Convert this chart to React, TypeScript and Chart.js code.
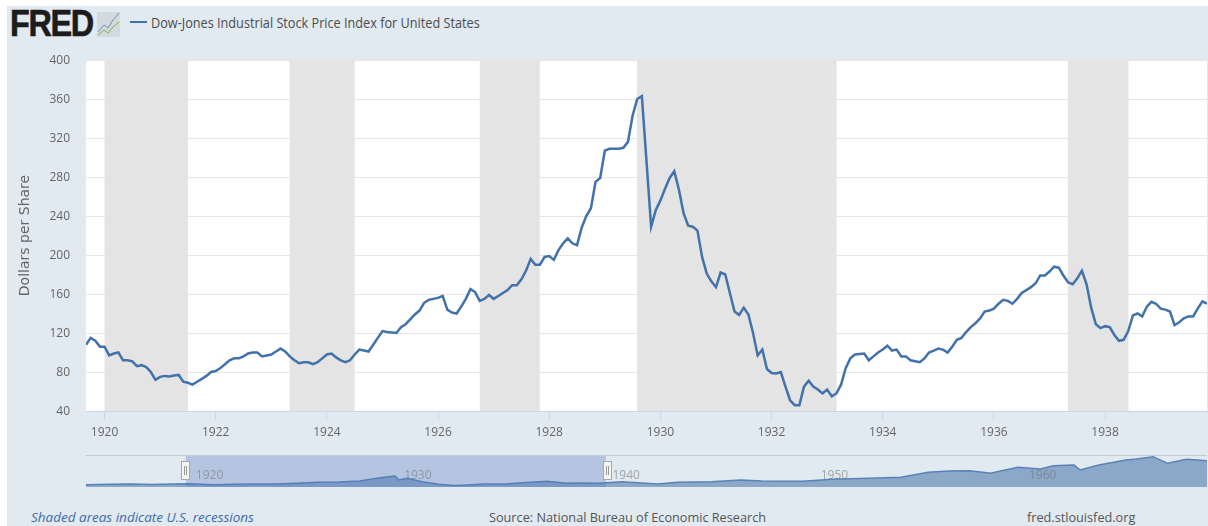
import React, { useEffect, useRef } from "react";
import { Chart, registerables } from "chart.js";

Chart.register(...registerables);

const seriesLabel = "Dow-Jones Industrial Stock Price Index for United States";
const firstYear = 1919;
const firstMonth = 8; // September (0-based)

const dowValues = [
  108, 115, 112, 106,
  106, 97, 99, 100, 92, 92, 91, 86, 87, 85, 80, 72,
  75, 76, 75.5, 76.5, 77, 70, 69, 67, 70, 73, 76, 80,
  81, 84, 88, 92, 94, 94, 96, 99, 100, 100, 96, 97,
  98, 101, 104, 101, 96, 92, 89, 90, 90, 88, 90, 94,
  98, 99, 95, 92, 90, 92, 98, 103, 102, 101, 108, 115,
  122, 121, 120.5, 120, 126, 129, 134, 139, 143, 151, 154, 155,
  156, 158, 144, 141, 140, 147, 155, 165, 162, 153, 155, 159,
  155, 158, 161, 164, 169, 169, 175, 184, 196, 190, 190, 198,
  199, 195, 205, 212, 217, 212, 210, 228, 240, 248, 275, 279,
  307, 309, 309, 309, 310, 316, 343, 360, 363, 296, 229, 246,
  256, 268, 279, 286, 267, 243, 230, 229, 225, 198, 181, 173,
  167, 182, 180, 161, 142, 138.6, 146, 139, 120, 97, 103, 83,
  79, 78.5, 80, 65, 51, 46, 46, 65, 71, 65, 62, 58,
  62, 55, 58, 67, 84, 94, 98, 98.5, 99, 92, 96, 100,
  103, 107, 102, 103, 96, 96, 92, 91, 90, 94, 100, 102,
  104, 103, 100, 106, 113, 115, 121, 126, 130, 135, 142, 143,
  145, 150, 154, 153, 150, 155, 161, 164, 167, 171, 179, 179,
  183, 188, 187, 179, 172, 170, 176, 184, 170, 146, 129, 125,
  127, 126, 118, 112, 113, 122, 138, 140, 137, 147, 152, 150,
  145, 144, 142, 128, 131, 135, 137, 137, 145, 152.5, 150,
];

const yTicks = [40, 80, 120, 160, 200, 240, 280, 320, 360, 400];
const xTickYears = [1920, 1922, 1924, 1926, 1928, 1930, 1932, 1934, 1936, 1938];

const recessionStarts = [1920.0, 1923.33, 1926.75, 1929.58, 1937.33];
const recessionEnds = [1921.5, 1924.5, 1927.83, 1933.17, 1938.42];

const navYears = [
  1914.87, 1916, 1917, 1918, 1919, 1919.8, 1921, 1922, 1923, 1924, 1925, 1926, 1927, 1928, 1929, 1929.7,
  1929.9, 1930.3, 1931, 1931.8, 1932.5, 1933, 1934, 1935, 1936, 1937, 1937.9, 1938.5, 1939.5, 1940.6, 1942.3,
  1943.3, 1944.9, 1946.3, 1947.3, 1949.3, 1950.7, 1952.5, 1954, 1955.3, 1956.3, 1957.3, 1958.3, 1959.6, 1960.7, 1961.3, 1962.3,
  1962.6, 1963.5, 1964.8, 1965.3, 1966.1, 1966.8, 1967.7, 1968.69,
];
const navValues = [
  75, 90, 95, 80, 95, 110, 72, 90, 98, 95, 125, 155, 165, 200, 300, 363,
  230, 285, 170, 90, 46, 60, 100, 100, 150, 185, 125, 135, 120, 174, 98,
  154, 174, 230, 197, 187, 253, 285, 318, 482, 525, 535, 450, 645, 590, 700, 720,
  557, 720, 885, 918, 995, 777, 908, 863,
];
const navLabels = [1920, 1930, 1940, 1950, 1960];

const UI_FONT = '"Open Sans", sans-serif';

const dowPoints = dowValues.map((y, i) => ({ x: firstYear + (firstMonth + i) / 12, y }));
const navPoints = navValues.map((y, i) => ({ x: navYears[i], y }));

const recessionPlugin = {
  id: "recessions",
  beforeDraw(chart: any) {
    const { ctx, chartArea: a } = chart;
    ctx.save();
    ctx.fillStyle = "#ffffff";
    ctx.fillRect(a.left, a.top, a.right - a.left, a.bottom - a.top);
    ctx.restore();
  },
  beforeDatasetsDraw(chart: any) {
    const { ctx, chartArea: a, scales } = chart;
    ctx.save();
    ctx.fillStyle = "#e4e4e4";
    recessionStarts.forEach((s, i) => {
      const l = scales.x.getPixelForValue(s);
      const r = scales.x.getPixelForValue(recessionEnds[i]);
      ctx.fillRect(l, a.top, r - l, a.bottom - a.top);
    });
    ctx.restore();
  },
};

const navigatorPlugin = {
  id: "navigatorDecor",
  afterDatasetsDraw(chart: any) {
    const { ctx, chartArea: a, scales } = chart;
    const first = dowPoints[0].x;
    const last = dowPoints[dowPoints.length - 1].x;
    const l = scales.x.getPixelForValue(first);
    const r = scales.x.getPixelForValue(last);
    ctx.save();
    ctx.fillStyle = "rgba(80,115,190,0.3)";
    ctx.fillRect(l, a.top, r - l, a.bottom - a.top);
    ctx.strokeStyle = "#c9c9c9";
    ctx.lineWidth = 1;
    ctx.beginPath();
    ctx.moveTo(a.left, a.top + 0.5);
    ctx.lineTo(a.right, a.top + 0.5);
    ctx.stroke();
    ctx.font = `12px ${UI_FONT}`;
    ctx.fillStyle = "rgba(110,110,110,0.55)";
    ctx.textBaseline = "middle";
    navLabels.forEach((yr) => {
      ctx.fillText(String(yr), scales.x.getPixelForValue(yr) + 3, a.top + 21);
    });
    [l - 1, r + 1].forEach((p) => {
      const hx = Math.round(p) - 4;
      ctx.fillStyle = "#f4f4f4";
      ctx.strokeStyle = "#a8a8a8";
      ctx.fillRect(hx + 0.5, a.top + 6.5, 8, 18);
      ctx.strokeRect(hx + 0.5, a.top + 6.5, 8, 18);
      ctx.strokeStyle = "#999999";
      ctx.beginPath();
      ctx.moveTo(hx + 3.5, a.top + 11);
      ctx.lineTo(hx + 3.5, a.top + 20);
      ctx.moveTo(hx + 5.5, a.top + 11);
      ctx.lineTo(hx + 5.5, a.top + 20);
      ctx.stroke();
    });
    ctx.restore();
  },
};

const abs = (left: number, top: number, extra: any = {}): any => ({
  position: "absolute",
  left,
  top,
  whiteSpace: "nowrap",
  fontFamily: UI_FONT,
  ...extra,
});

export default function App() {
  const mainRef = useRef<HTMLCanvasElement>(null);
  const navRef = useRef<HTMLCanvasElement>(null);

  useEffect(() => {
    const main = new Chart(mainRef.current as any, {
      type: "line",
      data: {
        datasets: [
          {
            label: seriesLabel,
            data: dowPoints,
            borderColor: "#4272aa",
            borderWidth: 2.5,
            pointRadius: 0,
            tension: 0,
            fill: false,
          },
        ],
      },
      options: {
        animation: false,
        responsive: false,
        layout: { padding: { top: 60, right: 1, left: 0, bottom: 0 } },
        plugins: { legend: { display: false }, tooltip: { enabled: false } },
        scales: {
          x: {
            type: "linear",
            min: dowPoints[0].x,
            max: dowPoints[dowPoints.length - 1].x,
            afterBuildTicks: (s: any) => {
              s.ticks = xTickYears.map((value) => ({ value }));
            },
            afterFit: (s: any) => {
              s.height = 39;
            },
            grid: { drawOnChartArea: false, color: "#ccd6eb", tickLength: 9 },
            border: { color: "#ccd6eb" },
            ticks: {
              autoSkip: false,
              maxRotation: 0,
              padding: 5,
              color: "#666666",
              font: { family: UI_FONT, size: 12 },
              callback: (v: any) => String(v),
            },
          },
          y: {
            type: "linear",
            min: 40,
            max: 400,
            afterBuildTicks: (s: any) => {
              s.ticks = yTicks.map((value) => ({ value }));
            },
            afterFit: (s: any) => {
              s.width = 86;
            },
            grid: { color: "#e6e6e6", drawTicks: false },
            border: { display: false },
            ticks: {
              padding: 16,
              labelOffset: 1,
              color: "#666666",
              font: { family: UI_FONT, size: 12 },
            },
            title: {
              display: true,
              text: "Dollars per Share",
              color: "#666666",
              font: { family: '"DejaVu Sans", sans-serif', size: 14 },
              padding: { top: 17, bottom: 0 },
            },
          },
        },
      },
      plugins: [recessionPlugin],
    } as any);

    const nav = new Chart(navRef.current as any, {
      type: "line",
      data: {
        datasets: [
          {
            data: navPoints,
            borderColor: "#5a82b5",
            backgroundColor: "rgba(69,114,167,0.55)",
            borderWidth: 1.5,
            pointRadius: 0,
            tension: 0,
            fill: "origin",
          },
        ],
      },
      options: {
        animation: false,
        responsive: false,
        layout: { padding: { top: 5, right: 1, left: 86, bottom: 8 } },
        plugins: { legend: { display: false }, tooltip: { enabled: false } },
        scales: {
          x: { type: "linear", display: false, min: 1914.87, max: 1968.69 },
          y: { type: "linear", display: false, min: 0, max: 1050 },
        },
      },
      plugins: [navigatorPlugin],
    } as any);

    return () => {
      main.destroy();
      nav.destroy();
    };
  }, []);

  return (
    <div style={{ position: "absolute", left: 0, top: 0, width: 1208, height: 526, overflow: "hidden", background: "#ffffff" }}>
      <div style={{ position: "absolute", left: 7, top: 6, width: 1201, height: 520, background: "#e1e9f1" }} />
      <div
        style={abs(10, 3, {
          fontFamily: '"Liberation Sans", sans-serif',
          fontWeight: 700,
          fontSize: 36,
          lineHeight: "42px",
          color: "#1c1c1c",
          letterSpacing: -1.5,
          WebkitTextStroke: "0.6px #1c1c1c",
          transform: "scaleX(0.9)",
          transformOrigin: "left top",
        })}
      >
        FRED
      </div>
      <svg style={{ position: "absolute", left: 97, top: 10 }} width={24} height={27}>
        <rect x={0} y={2} width={23} height={25} fill="#d3dade" />
        <polyline points="1,22 7,15 11,18 16,10 22,3" fill="none" stroke="#6f8fbc" strokeWidth={1} />
        <polyline points="1,25 7,20 11,23 16,17 22,12" fill="none" stroke="#8fae58" strokeWidth={1} />
      </svg>
      <div style={{ position: "absolute", left: 130, top: 21, width: 17, height: 2, background: "#4272aa" }} />
      <div style={abs(151, 13, { fontSize: 14, lineHeight: "20px", color: "#4d4d4d", transform: "scaleX(0.906)", transformOrigin: "left top" })}>
        {seriesLabel}
      </div>
      <canvas ref={mainRef} width={1208} height={450} style={{ position: "absolute", left: 0, top: 0 }} />
      <canvas ref={navRef} width={1208} height={45} style={{ position: "absolute", left: 0, top: 450 }} />
      <div style={abs(31, 507, { fontSize: 13.5, lineHeight: "20px", fontStyle: "italic", color: "#3e6ca6" })}>
        Shaded areas indicate U.S. recessions
      </div>
      <div style={abs(489, 507, { fontSize: 12.7, lineHeight: "20px", color: "#555555" })}>
        Source: National Bureau of Economic Research
      </div>
      <div style={abs(1027, 507, { fontSize: 12.7, lineHeight: "20px", color: "#555555" })}>fred.stlouisfed.org</div>
    </div>
  );
}
